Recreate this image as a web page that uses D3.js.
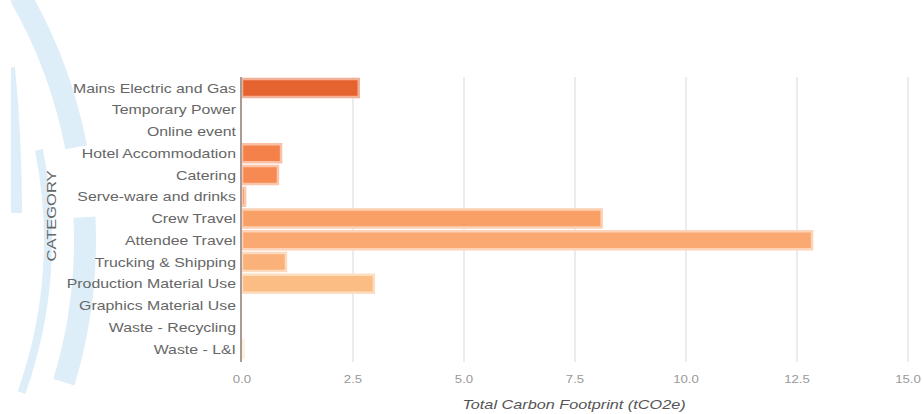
<!DOCTYPE html>
<html>
<head>
<meta charset="utf-8">
<script src="https://cdn.jsdelivr.net/npm/d3@7"></script>
<style>
  body { margin: 0; background: #fff; }
  svg { display: block; font-family: "Liberation Sans", Arial, sans-serif; }
</style>
</head>
<body>
<div id="chart"></div>
<script>
// categories and values (tCO2e)
const categories = [
    "Mains Electric and Gas", "Temporary Power", "Online event", "Hotel Accommodation",
    "Catering", "Serve-ware and drinks", "Crew Travel", "Attendee Travel",
    "Trucking & Shipping", "Production Material Use", "Graphics Material Use",
    "Waste - Recycling", "Waste - L&I"
];
const values = [2.63, 0, 0, 0.88, 0.81, 0.07, 8.1, 12.84, 0.99, 2.97, 0, 0, 0.03];
const palette = [
    "#e4632f", "#ea6c37", "#f0763f", "#f5814a", "#f78a52", "#f78f58", "#f9a066",
    "#faa972", "#fbb27a", "#fbbd83", "#fcc891", "#fcd5a0", "#fde0b2"
];
const xTicks = [0, 2.5, 5, 7.5, 10, 12.5, 15];

const width = 923, height = 414;
const margin = { top: 78, right: 15, bottom: 55, left: 242 };

const svg = d3.select("#chart").append("svg")
    .attr("width", width)
    .attr("height", height);

// background decoration (light blue rings on the left)
const defs = svg.append("defs");
defs.append("clipPath").attr("id", "deco-clip")
    .append("rect").attr("x", 11).attr("y", 0).attr("width", 200).attr("height", height);

const deco = svg.append("g").attr("clip-path", "url(#deco-clip)").attr("fill", "#ddeef9");
const rings = [
    { cx: -404, cy: 240, r0: 478, r1: 500, a0: 0.93, a1: 1.38 },
    { cx: -404, cy: 240, r0: 478, r1: 500, a0: 1.524, a1: 1.866 },
    { cx: -404, cy: 240, r0: 448, r1: 456, a0: 1.37, a1: 1.915 },
    { cx: -1504, cy: 213, r0: 1514, r1: 1526, a0: 1.475, a1: 1.5708 }
];
const arc = d3.arc();
rings.forEach(d => {
    deco.append("path")
        .attr("transform", `translate(${d.cx},${d.cy})`)
        .attr("d", arc({ innerRadius: d.r0, outerRadius: d.r1, startAngle: d.a0, endAngle: d.a1 }));
});

const x = d3.scaleLinear().domain([0, 15]).range([margin.left, width - margin.right]);
const y = d3.scaleBand().domain(categories)
    .range([margin.top, height - margin.bottom])
    .paddingInner(0.08).paddingOuter(0);

// grid
svg.append("g").selectAll("line").data(xTicks.slice(1)).join("line")
    .attr("x1", d => x(d)).attr("x2", d => x(d))
    .attr("y1", margin.top - 1).attr("y2", height - margin.bottom + 3)
    .attr("stroke", "#ececec").attr("stroke-width", 2);

// bars
svg.append("g").selectAll("rect").data(categories).join("rect")
    .attr("x", x(0))
    .attr("y", d => y(d) + 1)
    .attr("width", (d, i) => x(values[i]) - x(0))
    .attr("height", y.bandwidth() - 2)
    .attr("fill", (d, i) => palette[i])
    .attr("stroke", (d, i) => d3.interpolateRgb(palette[i], "#fff")(0.5))
    .attr("stroke-width", (d, i) => values[i] > 0 ? 2.5 : 0);

// y axis line
svg.append("line")
    .attr("x1", x(0) - 1).attr("x2", x(0) - 1)
    .attr("y1", margin.top - 1).attr("y2", height - margin.bottom + 3)
    .attr("stroke", "#a99c97").attr("stroke-width", 2);

// y labels
svg.append("g").selectAll("text").data(categories).join("text")
    .attr("transform", d => `translate(${x(0) - 6},${y(d) + y.bandwidth() / 2}) scale(1.22,1)`)
    .attr("dy", "0.35em")
    .attr("text-anchor", "end")
    .attr("font-size", 13)
    .attr("fill", "#666")
    .text(d => d);

// x tick labels
svg.append("g").selectAll("text").data(xTicks).join("text")
    .attr("transform", d => `translate(${x(d)},${height - 31}) scale(1.2,1)`)
    .attr("text-anchor", "middle")
    .attr("font-size", 11)
    .attr("fill", "#999")
    .text(d => d3.format(".1f")(d));

// axis titles
svg.append("text")
    .attr("transform", `translate(${(x(0) + x(15)) / 2 - 1},${height - 5}) scale(1.3,1)`)
    .attr("text-anchor", "middle")
    .attr("font-size", 12.5)
    .attr("font-style", "italic")
    .attr("fill", "#555")
    .text("Total Carbon Footprint (tCO2e)");

svg.append("text")
    .attr("transform", `translate(56,216) rotate(-90) scale(1.27,1)`)
    .attr("text-anchor", "middle")
    .attr("font-size", 13)
    .attr("fill", "#666")
    .text("CATEGORY");
</script>
</body>
</html>
